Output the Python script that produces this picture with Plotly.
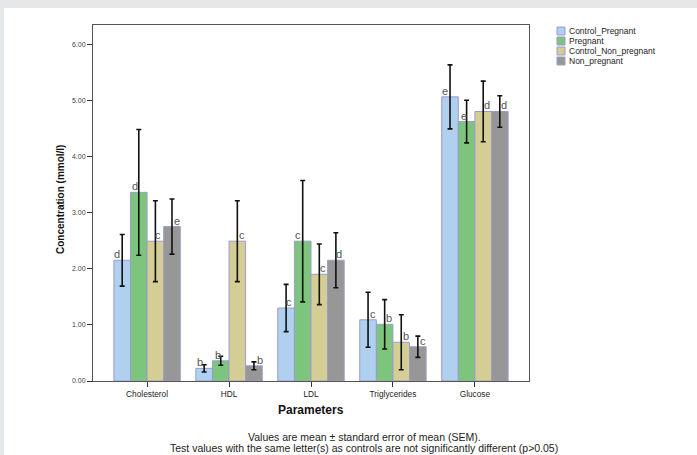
import plotly.graph_objects as go

# ---------------- data ----------------
categories = ["Cholesterol", "HDL", "LDL", "Triglycerides", "Glucose"]
series_names = ["Control_Pregnant", "Pregnant", "Control_Non_pregnant", "Non_pregnant"]

control_pregnant = [2.15, 0.225, 1.30, 1.09, 5.06]
pregnant = [3.36, 0.36, 2.49, 1.01, 4.62]
control_non_pregnant = [2.49, 2.49, 1.90, 0.69, 4.80]
non_pregnant = [2.75, 0.27, 2.15, 0.61, 4.80]

sem_control_pregnant = [0.46, 0.065, 0.42, 0.49, 0.57]
sem_pregnant = [1.12, 0.08, 1.08, 0.44, 0.38]
sem_control_non_pregnant = [0.72, 0.72, 0.54, 0.49, 0.54]
sem_non_pregnant = [0.49, 0.07, 0.49, 0.19, 0.28]

letters_control_pregnant = ["d", "b", "c", "c", "e"]
letters_pregnant = ["d", "b", "c", "b", "e"]
letters_control_non_pregnant = ["c", "c", "c", "b", "d"]
letters_non_pregnant = ["e", "b", "d", "c", "d"]

y_ticks = [0, 1, 2, 3, 4, 5, 6]
y_tick_labels = ["0.00", "1.00", "2.00", "3.00", "4.00", "5.00", "6.00"]

# ---------------- styles ----------------
colors = ["#afd0ee", "#7dc57d", "#d4cd94", "#979797"]
bar_line = "#9c9ccc"
FONT = "Liberation Sans, Arial, sans-serif"
BARGAP = 0.19
# horizontal pixel shift of the letter relative to bar centre
label_shift = [
    [-5, -4, 3, 5, -5],
    [-4, -3, -5, 4, -3],
    [3, 5, 4, 5, 4],
    [5, 6, 3, 5, 4],
]

values = [control_pregnant, pregnant, control_non_pregnant, non_pregnant]
sems = [sem_control_pregnant, sem_pregnant, sem_control_non_pregnant, sem_non_pregnant]
letters = [letters_control_pregnant, letters_pregnant,
           letters_control_non_pregnant, letters_non_pregnant]

W, H = 697, 455
L, R, T, B = 93, 529, 25, 381  # plot area pixels


def px_x(p):
    return (p - L) / (R - L)


def px_y(p):
    return (B - p) / (B - T)


fig = go.Figure()
for i, name in enumerate(series_names):
    fig.add_trace(go.Bar(
        x=categories, y=values[i], name=name,
        marker=dict(color=colors[i], line=dict(color=bar_line, width=1)),
        error_y=dict(type="data", array=sems[i], color="#111111",
                     thickness=1.6, width=2.5),
        showlegend=False,
    ))

# letters above bars
n = len(series_names)
bw = (1 - BARGAP) / n
annotations = []
for i in range(n):
    off = (i - (n - 1) / 2) * bw
    for k, cat in enumerate(categories):
        annotations.append(dict(
            x=k + off, y=values[i][k], xref="x", yref="y",
            text=letters[i][k], showarrow=False,
            xanchor="center", yanchor="bottom",
            xshift=label_shift[i][k], yshift=-2,
            font=dict(family=FONT, size=11, color="#555555"),
        ))

# manual legend
shapes = []
for i, name in enumerate(series_names):
    yc = 31 + 10 * i
    shapes.append(dict(type="rect", xref="paper", yref="paper",
                       x0=px_x(557), x1=px_x(565), y0=px_y(yc + 4), y1=px_y(yc - 4),
                       fillcolor=colors[i], line=dict(color=bar_line, width=1)))
    annotations.append(dict(x=px_x(567), y=px_y(yc), xref="paper", yref="paper",
                            text=name, showarrow=False, xanchor="left", yanchor="middle",
                            font=dict(family=FONT, size=8.5, color="#222222")))

# white panel over grey page background
shapes.insert(0, dict(type="rect", xref="paper", yref="paper", layer="below",
                      x0=px_x(4), x1=px_x(W + 2), y0=px_y(H + 2), y1=px_y(8),
                      fillcolor="white", line=dict(width=0)))

# axis titles and footnotes
annotations.append(dict(x=px_x(60), y=px_y(200), xref="paper", yref="paper",
                        text="<b>Concentration (mmol/l)</b>", textangle=-90,
                        showarrow=False, xanchor="center", yanchor="middle",
                        font=dict(family=FONT, size=10, color="#111111")))
annotations.append(dict(x=0.5, y=px_y(410), xref="paper", yref="paper",
                        text="<b>Parameters</b>", showarrow=False,
                        xanchor="center", yanchor="middle",
                        font=dict(family=FONT, size=12, color="#111111")))
annotations.append(dict(x=px_x(364), y=px_y(437), xref="paper", yref="paper",
                        text="Values are mean ± standard error of mean (SEM).",
                        showarrow=False, xanchor="center", yanchor="middle",
                        font=dict(family=FONT, size=10.5, color="#222222")))
annotations.append(dict(x=px_x(364), y=px_y(447.5), xref="paper", yref="paper",
                        text="Test values with the same letter(s) as controls are not significantly different (p>0.05)",
                        showarrow=False, xanchor="center", yanchor="middle",
                        font=dict(family=FONT, size=10.5, color="#222222")))

fig.update_layout(
    width=W, height=H,
    margin=dict(l=L, r=W - R, t=T, b=H - B, pad=0),
    paper_bgcolor="#e6e7e9",
    plot_bgcolor="#f0f0f0",
    barmode="group", bargap=BARGAP, bargroupgap=0,
    font=dict(family=FONT, size=7, color="#333333"),
    xaxis=dict(range=[-0.66, len(categories) - 0.34], showline=True, linecolor="#555555",
               linewidth=1, mirror=True, ticks="outside", ticklen=5, tickcolor="#333333",
               showgrid=False, tickfont=dict(size=8.3, color="#222222")),
    yaxis=dict(range=[0, 6.34], showline=True, linecolor="#555555", linewidth=1,
               mirror=True, ticks="outside", ticklen=5, tickcolor="#333333",
               tickvals=y_ticks, ticktext=y_tick_labels, showgrid=False,
               zeroline=False, tickfont=dict(size=7, color="#444444")),
    shapes=shapes, annotations=annotations,
)

fig.write_html(
    "out.html",
    config={"displayModeBar": False},
    post_script="document.body.style.margin='0';document.body.style.overflow='hidden';"
                "document.body.style.background='#e6e7e9';",
)
